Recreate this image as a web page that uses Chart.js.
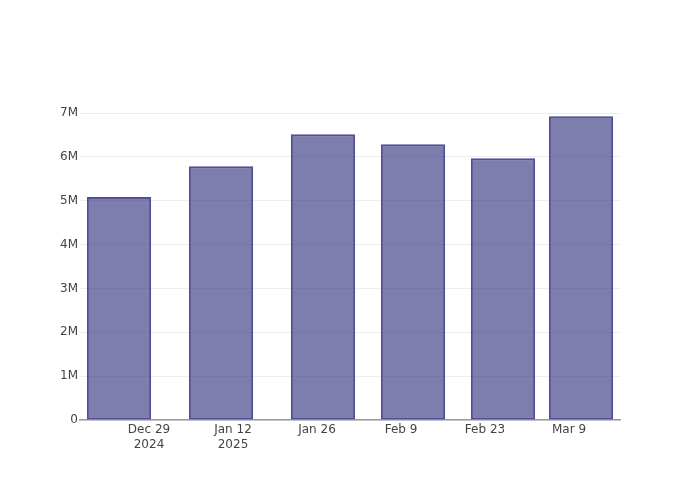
<!DOCTYPE html>
<html>
<head>
<meta charset="utf-8">
<script src="https://cdn.jsdelivr.net/npm/chart.js@4/dist/chart.umd.min.js"></script>
<style>
  html, body { margin: 0; padding: 0; background: #fff; }
  #wrap { width: 700px; height: 500px; }
</style>
</head>
<body>
<div id="wrap"><canvas id="chart" width="700" height="500"></canvas></div>
<script>
// weekly-ish totals
const dates = ["2024-12-24", "2025-01-10", "2025-01-27", "2025-02-11", "2025-02-26", "2025-03-11"];
const values = [5090000, 5790000, 6520000, 6290000, 5970000, 6930000];
const tickDates = ["2024-12-29", "2025-01-12", "2025-01-26", "2025-02-09", "2025-02-23", "2025-03-09"];
const tickLabels = [["Dec 29", "2024"], ["Jan 12", "2025"], "Jan 26", "Feb 9", "Feb 23", "Mar 9"];
const xRange = ["2024-12-17T12:00:00Z", "2025-03-17T12:00:00Z"];
const yTicks = [0, 1000000, 2000000, 3000000, 4000000, 5000000, 6000000, 7000000];
const yMax = 7300000;

const DAY = 86400000;
const toDay = (s) => Date.parse(s.length > 10 ? s : s + "T00:00:00Z") / DAY;

const FONT = { family: "'DejaVu Sans', 'Open Sans', sans-serif", size: 12 };

new Chart(document.getElementById("chart"), {
  type: "bar",
  data: {
    datasets: [{
      data: dates.map((d, i) => ({ x: toDay(d), y: values[i] })),
      backgroundColor: "rgba(45,45,125,0.62)",
      borderColor: "#4f4f97",
      borderWidth: 2,
      borderSkipped: false,
      categoryPercentage: 0.8,
      barPercentage: 1.03,
    }],
  },
  options: {
    responsive: false,
    animation: false,
    layout: { padding: { top: 100, right: 80, left: 0, bottom: 0 } },
    plugins: { legend: { display: false }, tooltip: { enabled: false } },
    scales: {
      x: {
        type: "linear",
        offset: false,
        min: toDay(xRange[0]),
        max: toDay(xRange[1]),
        afterBuildTicks: (axis) => { axis.ticks = tickDates.map((d) => ({ value: toDay(d) })); },
        afterFit: (axis) => { axis.height = 80; },
        ticks: {
          color: "#444",
          font: FONT,
          padding: 3,
          maxRotation: 0,
          autoSkip: false,
          callback: (v) => {
            const i = tickDates.findIndex((d) => toDay(d) === v);
            return i >= 0 ? tickLabels[i] : "";
          },
        },
        grid: { display: false, drawTicks: false, offset: false },
        border: { display: true, color: "#9a9a9a", width: 1.5 },
      },
      y: {
        min: 0,
        max: yMax,
        afterBuildTicks: (axis) => { axis.ticks = yTicks.map((v) => ({ value: v })); },
        afterFit: (axis) => { axis.width = 80; },
        ticks: {
          color: "#444",
          font: FONT,
          padding: 2,
          callback: (v) => (v === 0 ? "0" : v / 1000000 + "M"),
        },
        grid: { color: "#eeeeee", drawTicks: false },
        border: { display: false },
      },
    },
  },
});
</script>
</body>
</html>
